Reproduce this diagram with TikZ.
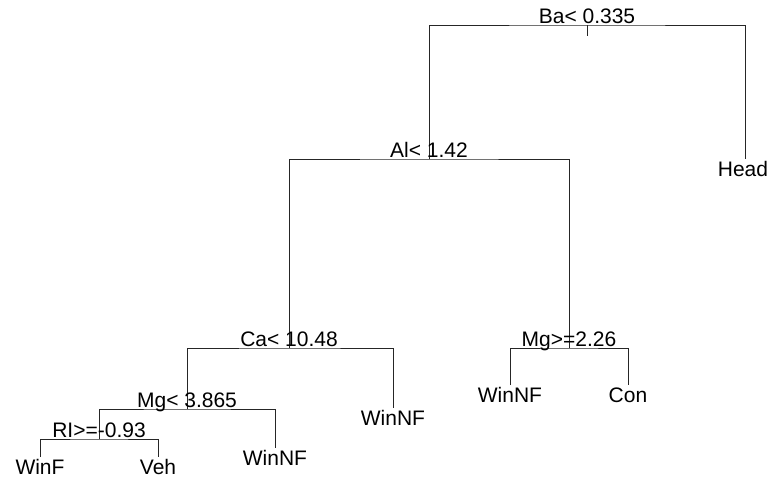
\documentclass[tikz,border=0pt]{standalone}
\usepackage{fontspec}
\setmainfont{Liberation Sans}
\begin{document}
\begin{tikzpicture}[x=1pt,y=-1pt,
  branch/.style={draw=black!85,line width=0.8pt},
  splitlab/.style={anchor=base,inner sep=0pt,font=\fontsize{21}{24}\selectfont},
  leaflab/.style={anchor=base,inner sep=0pt,font=\fontsize{21}{24}\selectfont}]
\useasboundingbox (0,0) rectangle (769,477);
% split points and leaf ends
\coordinate (root) at (587,25);
\coordinate (roottick) at (587,36);
\coordinate (al) at (429,159);
\coordinate (head) at (745,159);
\coordinate (ca) at (289,348);
\coordinate (mgb) at (569,348);
\coordinate (mga) at (187,409);
\coordinate (wnfa) at (393,408);
\coordinate (ri) at (99,439);
\coordinate (wnfb) at (275,448);
\coordinate (winf) at (40,457);
\coordinate (veh) at (158,457);
\coordinate (wnfc) at (510,385);
\coordinate (con) at (628,385);
% branches
\path[branch] (root) -- (roottick);
\path[branch] (al) |- (root) -| (head);
\path[branch] (ca) |- (al) -| (mgb);
\path[branch] (mga) |- (ca) -| (wnfa);
\path[branch] (ri) |- (mga) -| (wnfb);
\path[branch] (winf) |- (ri) -| (veh);
\path[branch] (wnfc) |- (mgb) -| (con);
% split labels
\node[splitlab] (lroot) at ([yshift=1.5pt]root) {Ba< 0.335};
\node[splitlab] (lal) at ([yshift=1.5pt]al) {Al< 1.42};
\node[splitlab] (lca) at ([yshift=1.5pt]ca) {Ca< 10.48};
\node[splitlab] (lmgb) at ([yshift=1.5pt]mgb) {Mg>=2.26};
\node[splitlab] (lmga) at ([yshift=1.5pt]mga) {Mg< 3.865};
\node[splitlab] (lri) at ([yshift=1.5pt]ri) {RI>=-0.93};
% leaf labels
\node[leaflab] (lhead) at ([xshift=-2pt,yshift=-17pt]head) {Head};
\node[leaflab] (lwnfa) at ([yshift=-17pt]wnfa) {WinNF};
\node[leaflab] (lwnfb) at ([yshift=-17pt]wnfb) {WinNF};
\node[leaflab] (lwnfc) at ([yshift=-17pt]wnfc) {WinNF};
\node[leaflab] (lcon) at ([yshift=-17pt]con) {Con};
\node[leaflab] (lwinf) at ([yshift=-17pt]winf) {WinF};
\node[leaflab] (lveh) at ([yshift=-17pt]veh) {Veh};
\end{tikzpicture}
\end{document}
